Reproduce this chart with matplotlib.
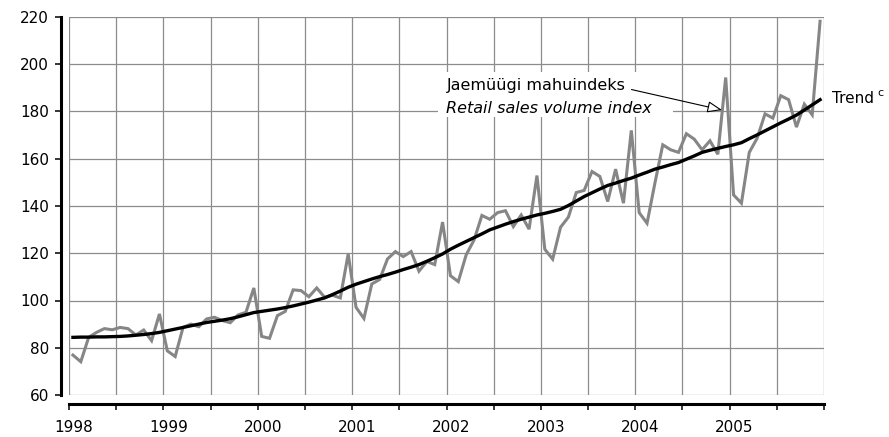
import numpy as np
import matplotlib
matplotlib.use('Agg')
import matplotlib.pyplot as plt
import matplotlib.transforms as mtransforms
from matplotlib.patches import Rectangle

plt.rcParams['font.family'] = ['DejaVu Sans']

# monthly retail sales volume index, Jan 1998 .. Dec 2005
index_vals = [
    76.9, 74.1, 84.4, 86.5, 88.1, 87.6, 88.6, 88.1, 85.4, 87.5, 83.0, 94.3,
    78.7, 76.3, 88.6, 90.0, 88.9, 92.2, 92.9, 91.5, 90.6, 93.9, 95.0, 105.3,
    84.8, 84.0, 93.6, 95.4, 104.5, 104.2, 101.6, 105.3, 101.4, 102.2, 101.1, 119.7,
    97.1, 92.4, 107.0, 108.9, 117.6, 120.7, 118.6, 120.7, 112.4, 116.5, 115.2, 133.2,
    110.5, 108.0, 119.3, 125.6, 136.0, 134.4, 137.2, 138.0, 131.3, 136.2, 130.2, 152.9,
    121.7, 117.5, 131.0, 135.3, 145.7, 146.6, 154.6, 152.5, 141.9, 155.6, 141.2, 172.0,
    137.2, 132.7, 149.7, 165.9, 163.8, 162.7, 170.6, 168.3, 163.8, 167.6, 161.9, 194.4,
    144.7, 141.2, 162.7, 168.7, 179.0, 177.2, 186.7, 185.0, 173.4, 183.1, 178.6, 218.2,
]
trend_vals = [
    84.4, 84.5, 84.5, 84.6, 84.6, 84.7, 84.8, 85.0, 85.3, 85.6, 86.0, 86.5,
    87.2, 87.9, 88.6, 89.3, 90.0, 90.7, 91.2, 91.7, 92.3, 93.1, 94.0, 94.9,
    95.4, 95.9, 96.4, 97.0, 97.7, 98.5, 99.3, 100.2, 101.1, 102.5, 104.0, 105.6,
    106.9, 108.0, 109.1, 110.1, 111.0, 112.0, 113.1, 114.1, 115.2, 116.6, 118.1, 119.7,
    121.7, 123.4, 125.0, 126.6, 128.2, 129.9, 131.1, 132.3, 133.4, 134.4, 135.3, 136.2,
    136.9, 137.7, 138.6, 140.2, 142.1, 144.0, 145.6, 147.2, 148.7, 149.7, 150.8, 151.8,
    153.1, 154.3, 155.6, 156.5, 157.5, 158.4, 159.8, 161.2, 162.7, 163.6, 164.4, 165.2,
    165.9, 166.8, 168.5, 170.1, 171.8, 173.5, 175.2, 176.8, 178.5, 180.6, 182.8, 185.0,
]
start_year = 1998
end_year = 2006

t = start_year + (np.arange(len(index_vals)) + 0.5) / 12

fig = plt.figure(figsize=(8.89, 4.37), dpi=100)
ax = fig.add_axes([69/889, 1-395/437, 755/889, 378/437])

ax.plot(t, index_vals, color='#868686', lw=2.2, zorder=3, solid_joinstyle='miter')
ax.plot(t, trend_vals, color='black', lw=2.4, zorder=4)

ax.set_xlim(start_year, end_year)
ax.set_ylim(60, 220)

xt = np.arange(start_year, end_year + 0.01, 0.5)
ax.set_xticks(xt)
ax.set_xticklabels([str(int(v)) if v == int(v) and v < end_year else '' for v in xt])
ax.set_yticks(np.arange(60, 221, 20))

ax.set_axisbelow(True)
ax.grid(True, color='#8c8c8c', lw=0.9)

for s in ['top', 'right']:
    ax.spines[s].set_visible(False)
ax.spines['left'].set_position(('outward', 5.8))
ax.spines['bottom'].set_position(('outward', 6.5))
ax.spines['left'].set_linewidth(2.2)
ax.spines['bottom'].set_linewidth(2.2)
ax.tick_params(axis='both', direction='out', length=4.5, width=1.1, labelsize=11, colors='black')
ax.tick_params(axis='x', pad=7)
ax.tick_params(axis='y', pad=4)

off = mtransforms.ScaledTranslation(5/100, 0, fig.dpi_scale_trans)
for lab in ax.get_xticklabels():
    lab.set_transform(lab.get_transform() + off)

# white label box
ax.add_patch(Rectangle((2001.905, 177.7), 2.49, 19.0, facecolor='white',
                       edgecolor='none', zorder=1))
ax.text(2002.0, 191.2, 'Jaemüügi mahuindeks', fontsize=11.5, va='center', ha='left', zorder=5)
ax.text(2002.0, 181.1, 'Retail sales volume index', fontsize=11.5, style='italic',
        va='center', ha='left', zorder=5)
ax.annotate('', xy=(2004.92, 180.6), xytext=(2003.96, 189.3),
            arrowprops=dict(arrowstyle='-|>,head_length=0.9,head_width=0.35',
                            fc='white', ec='black', lw=0.8, shrinkA=0, shrinkB=0),
            zorder=6)

tr = ax.text(2006.09, 185.3, 'Trend', fontsize=11, va='center', ha='left', clip_on=False)
ax.annotate('c', xy=(1, 0.55), xycoords=tr, xytext=(2, 0), textcoords='offset points',
            fontsize=8, va='bottom', ha='left')

fig.savefig('out.png', dpi=100)
